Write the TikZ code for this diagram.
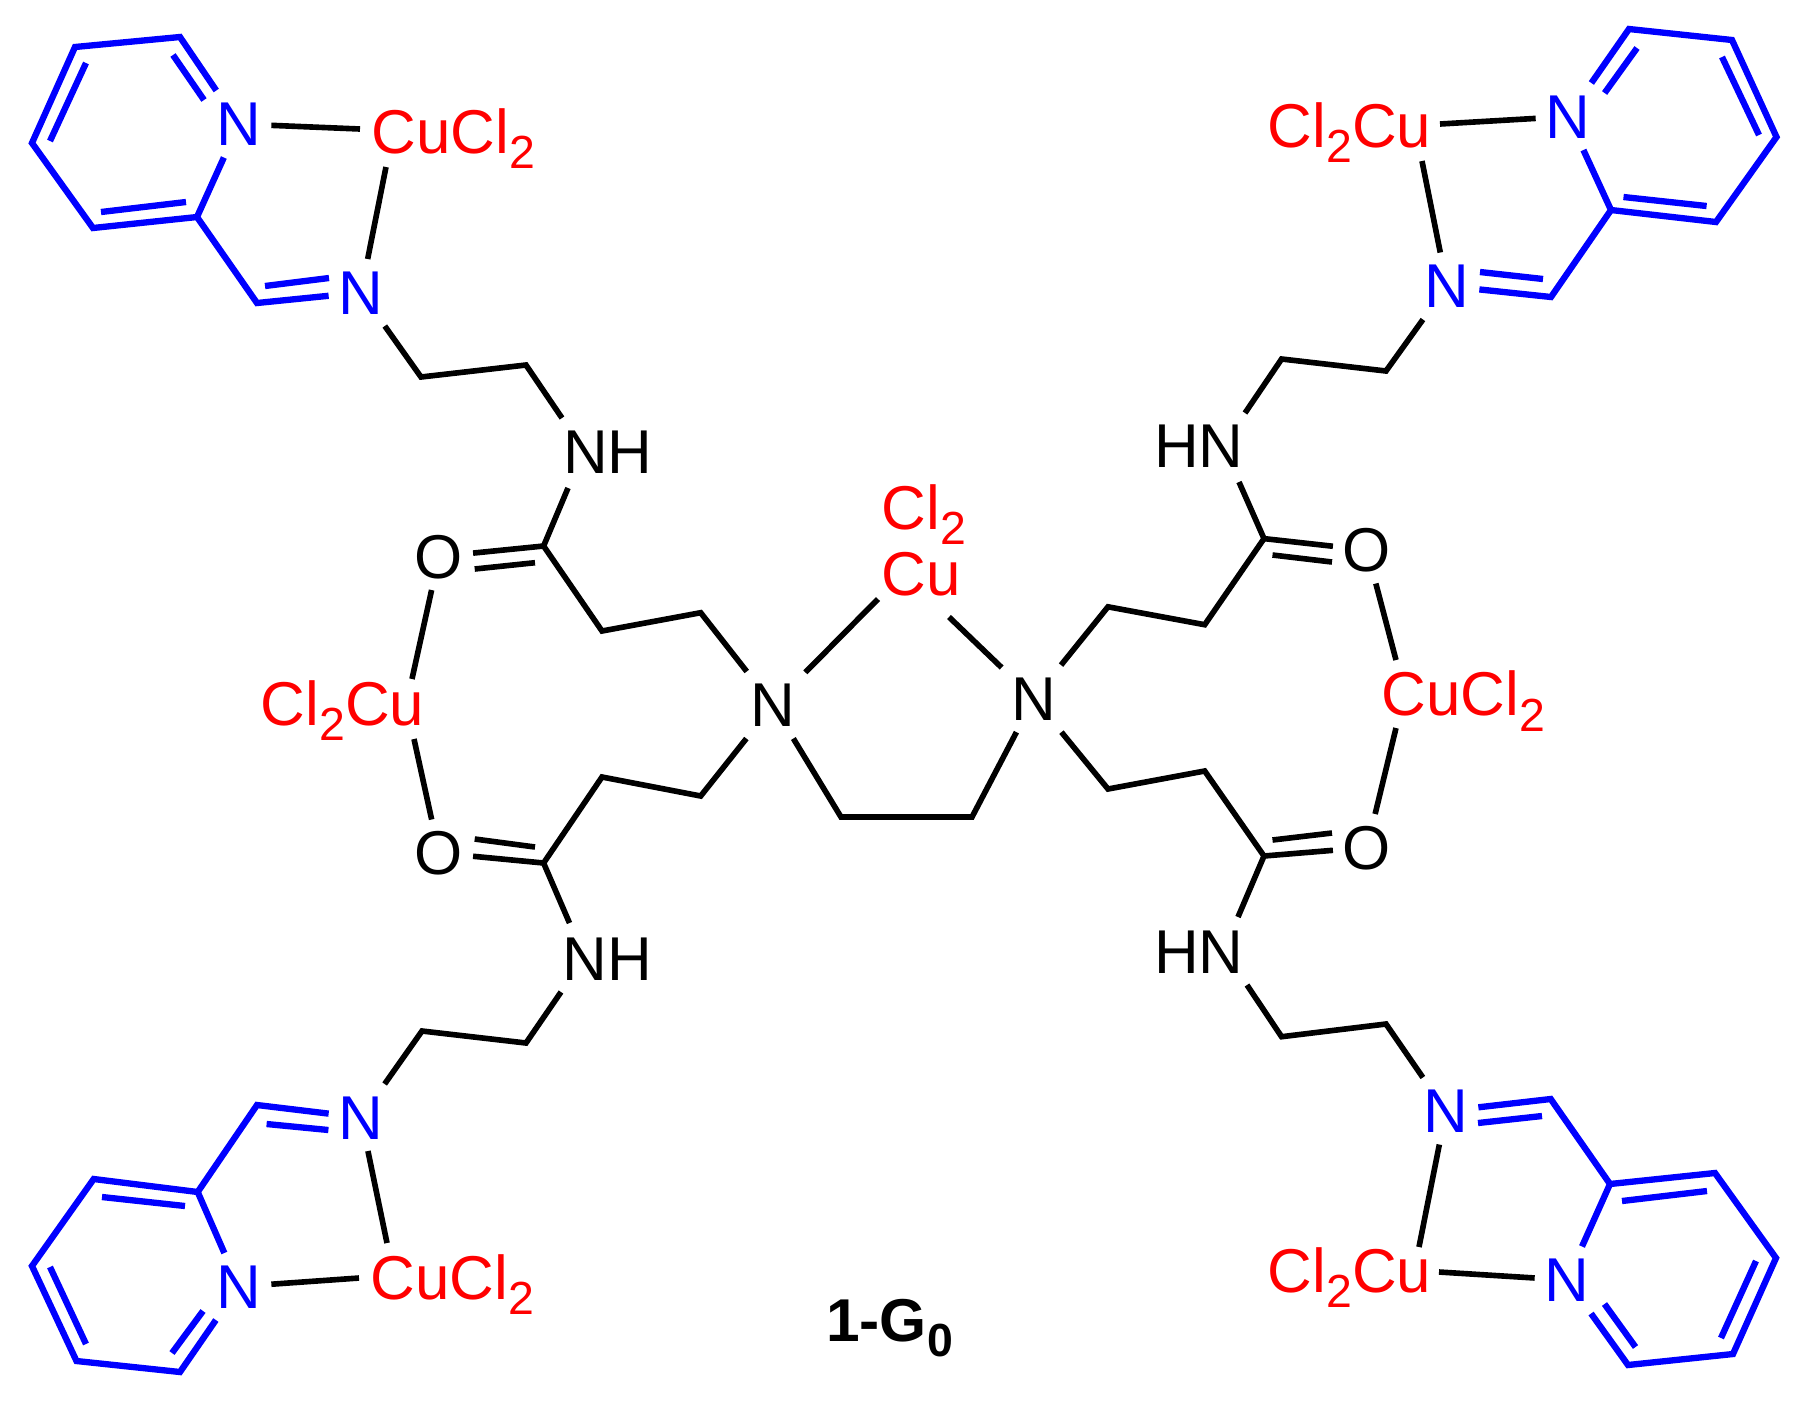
\documentclass[tikz,border=0pt]{standalone}
\usepackage{fontspec}
\setmainfont{Liberation Sans}
\usepackage{xcolor}
\usepackage{tikz}

\newcommand{\lowsub}[1]{\raisebox{-.25em}{\fontsize{13.2pt}{14pt}\selectfont #1}}

\begin{document}
\begin{tikzpicture}[
x=0.01cm, y=-0.01cm,
atom/.style={font=\fontsize{17.6pt}{20pt}\selectfont,
inner sep=0pt, outer xsep=.1cm, outer ysep=.12cm,
text height=.43cm, text depth=0pt},
metal/.style={atom, text=red},
pyn/.style={atom, text=blue},
bond/.style={line width=1.6pt},
ring/.style={line width=1.8pt, blue}
]
\useasboundingbox (0,0) rectangle (1799,1405);

% atoms, top left arm
\node[pyn] (Ntl1) at (239,124) {N};
\node[pyn] (Ntl2) at (361,292.5) {N};
\node[metal] (Cutl) at (453.5,131.5) {CuCl\lowsub{2}};
\node[atom] (NHtl) at (608,451.5) {NH};
\node[atom] (Otl) at (439,556.5) {O};
% atoms, bottom left arm
\node[pyn] (Nbl1) at (239,1286.5) {N};
\node[pyn] (Nbl2) at (361,1117.5) {N};
\node[metal] (Cubl) at (452.5,1277.5) {CuCl\lowsub{2}};
\node[atom] (NHbl) at (607.5,958.5) {NH};
\node[atom] (Obl) at (439,853) {O};
% atoms, top right arm
\node[pyn] (Ntr1) at (1568,116.5) {N};
\node[pyn] (Ntr2) at (1447,286) {N};
\node[metal] (Cutr) at (1349.5,125.5) {Cl\lowsub{2}Cu};
\node[atom] (NHtr) at (1199,445.5) {HN};
\node[atom] (Otr) at (1367,550) {O};
% atoms, bottom right arm
\node[pyn] (Nbr1) at (1567,1280) {N};
\node[pyn] (Nbr2) at (1446,1111) {N};
\node[metal] (Cubr) at (1349.5,1270.5) {Cl\lowsub{2}Cu};
\node[atom] (NHbr) at (1199,952) {HN};
\node[atom] (Obr) at (1367,847.5) {O};
% atoms, centre
\node[atom] (Nleft) at (773,705) {N};
\node[atom] (Nright) at (1034,698.6) {N};
\node[metal] (Cumid) at (921,573.5) {Cu};
\node[metal] (Clmid) at (923.7,507.5) {Cl\lowsub{2}};
\node[metal] (Cul) at (342.5,703.5) {Cl\lowsub{2}Cu};
\node[metal] (Cur) at (1463.5,694) {CuCl\lowsub{2}};
\node[atom, font=\fontsize{17.2pt}{20pt}\selectfont\bfseries] (label) at (889.5,1319.5) {1-G\lowsub{0}};

% carbons, top left arm
\coordinate (tl1) at (75,47); \coordinate (tl2) at (180,37);
\coordinate (tl3) at (197,217); \coordinate (tl4) at (93,228);
\coordinate (tl5) at (32,143); \coordinate (tlim) at (257,303);
\coordinate (tlch1) at (421,377); \coordinate (tlch2) at (526,365);
\coordinate (tlco) at (543.6,546); \coordinate (tlch3) at (602,631);
\coordinate (tlch4) at (700.7,612.7);
% carbons, bottom left arm
\coordinate (bl1) at (93.7,1179); \coordinate (bl2) at (32,1266);
\coordinate (bl3) at (76.5,1361); \coordinate (bl4) at (180,1372);
\coordinate (bl5) at (197.7,1192); \coordinate (blim) at (257,1105);
\coordinate (blch1) at (422,1031); \coordinate (blch2) at (526,1043);
\coordinate (blco) at (543.6,863); \coordinate (blch3) at (602,777);
\coordinate (blch4) at (700.7,796);
% carbons, top right arm
\coordinate (tr1) at (1629,29); \coordinate (tr2) at (1732,40);
\coordinate (tr3) at (1776.5,137); \coordinate (tr4) at (1716,222);
\coordinate (tr5) at (1611,210); \coordinate (trim) at (1551,297);
\coordinate (trch1) at (1386,371); \coordinate (trch2) at (1281.6,359);
\coordinate (trco) at (1264,538.6); \coordinate (trch3) at (1204.7,624.7);
\coordinate (trch4) at (1108,606.8);
% carbons, bottom right arm
\coordinate (br1) at (1628,1365); \coordinate (br2) at (1733,1354);
\coordinate (br3) at (1776,1258); \coordinate (br4) at (1715,1173);
\coordinate (br5) at (1610,1184); \coordinate (brim) at (1550.7,1099);
\coordinate (brch1) at (1386,1024); \coordinate (brch2) at (1281.6,1036.7);
\coordinate (brco) at (1264,856); \coordinate (brch3) at (1204.7,771);
\coordinate (brch4) at (1108,789);
% carbons, centre
\coordinate (en1) at (841,817); \coordinate (en2) at (972,817);

% ends of the inner double bond lines
\coordinate (tli1) at (173,55); \coordinate (tli2) at (204,100);
\coordinate (tli3) at (86,63); \coordinate (tli4) at (50,141);
\coordinate (tli5) at (101,212); \coordinate (tli6) at (186,202);
\coordinate (tli7) at (265,286); \coordinate (tli8) at (329,278);
\coordinate (tlo1) at (535,562.7); \coordinate (tlo2) at (474.7,569);
\coordinate (bli1) at (102,1197); \coordinate (bli2) at (185,1206);
\coordinate (bli3) at (50,1267); \coordinate (bli4) at (86,1344);
\coordinate (bli5) at (203,1311); \coordinate (bli6) at (172,1353);
\coordinate (bli7) at (266.6,1124); \coordinate (bli8) at (328.4,1130);
\coordinate (blo1) at (535,847); \coordinate (blo2) at (474.7,839);
\coordinate (tri1) at (1637,48); \coordinate (tri2) at (1604.6,93);
\coordinate (tri3) at (1722,57); \coordinate (tri4) at (1759,135);
\coordinate (tri5) at (1623.5,197); \coordinate (tri6) at (1706.6,206);
\coordinate (tri7) at (1480,272); \coordinate (tri8) at (1543,279);
\coordinate (tro1) at (1272.5,555); \coordinate (tro2) at (1332,562);
\coordinate (bri1) at (1604.5,1304); \coordinate (bri2) at (1635.5,1347);
\coordinate (bri3) at (1622,1201); \coordinate (bri4) at (1707,1191);
\coordinate (bri5) at (1756,1261); \coordinate (bri6) at (1721,1338);
\coordinate (bri7) at (1478,1123); \coordinate (bri8) at (1542,1116);
\coordinate (bro1) at (1272.5,840); \coordinate (bro2) at (1332,833);

% pyridine rings and imines
\draw[ring] (Ntl1) -- (tl2) -- (tl1) -- (tl5) -- (tl4) -- (tl3) -- (Ntl1);
\draw[ring] (tl3) -- (tlim) -- (Ntl2);
\draw[ring] (tli1) -- (tli2);
\draw[ring] (tli3) -- (tli4);
\draw[ring] (tli5) -- (tli6);
\draw[ring] (tli7) -- (tli8);

\draw[ring] (Nbl1) -- (bl4) -- (bl3) -- (bl2) -- (bl1) -- (bl5) -- (Nbl1);
\draw[ring] (bl5) -- (blim) -- (Nbl2);
\draw[ring] (bli1) -- (bli2);
\draw[ring] (bli3) -- (bli4);
\draw[ring] (bli5) -- (bli6);
\draw[ring] (bli7) -- (bli8);

\draw[ring] (Ntr1) -- (tr1) -- (tr2) -- (tr3) -- (tr4) -- (tr5) -- (Ntr1);
\draw[ring] (tr5) -- (trim) -- (Ntr2);
\draw[ring] (tri1) -- (tri2);
\draw[ring] (tri3) -- (tri4);
\draw[ring] (tri5) -- (tri6);
\draw[ring] (tri7) -- (tri8);

\draw[ring] (Nbr1) -- (br1) -- (br2) -- (br3) -- (br4) -- (br5) -- (Nbr1);
\draw[ring] (br5) -- (brim) -- (Nbr2);
\draw[ring] (bri1) -- (bri2);
\draw[ring] (bri3) -- (bri4);
\draw[ring] (bri5) -- (bri6);
\draw[ring] (bri7) -- (bri8);

% copper bonds of the arms
\draw[bond] (Ntl1) -- ([shift={(-93.5,-2.5)}]Cutl.center);
\draw[bond] ([shift={(-67.5,35.5)}]Cutl.center) -- (Ntl2);
\draw[bond] (Nbl1) -- ([shift={(-93.5,.5)}]Cubl.center);
\draw[bond] ([shift={(-65.5,-34.5)}]Cubl.center) -- (Nbl2);
\draw[bond] (Ntr1) -- ([shift={(90.5,-1.5)}]Cutr.center);
\draw[bond] ([shift={(72.5,35.5)}]Cutr.center) -- (Ntr2);
\draw[bond] (Nbr1) -- ([shift={(89.5,1.5)}]Cubr.center);
\draw[bond] ([shift={(69.5,-23.5)}]Cubr.center) -- (Nbr2);

% chains
\draw[bond] (Ntl2) -- (tlch1) -- (tlch2) -- ([shift={(-46,-33.5)}]NHtl.center);
\draw[bond] ([shift={(-40,36.5)}]NHtl.center) -- (tlco) -- (tlch3) -- (tlch4) -- (Nleft);
\draw[bond] (Nbl2) -- (blch1) -- (blch2) -- ([shift={(-46.5,33.5)}]NHbl.center);
\draw[bond] ([shift={(-38,-35.5)}]NHbl.center) -- (blco) -- (blch3) -- (blch4) -- (Nleft);
\draw[bond] (Ntr2) -- (trch1) -- (trch2) -- ([shift={(46,-32.5)}]NHtr.center);
\draw[bond] ([shift={(40,36.5)}]NHtr.center) -- (trco) -- (trch3) -- (trch4) -- (Nright);
\draw[bond] (Nbr2) -- (brch1) -- (brch2) -- ([shift={(48,33)}]NHbr.center);
\draw[bond] ([shift={(39,-35)}]NHbr.center) -- (brco) -- (brch3) -- (brch4) -- (Nright);

% carbonyls
\draw[bond] (tlco) -- (Otl);
\draw[bond] (tlo1) -- (tlo2);
\draw[bond] (blco) -- (Obl);
\draw[bond] (blo1) -- (blo2);
\draw[bond] (trco) -- (Otr);
\draw[bond] (tro1) -- (tro2);
\draw[bond] (brco) -- (Obr);
\draw[bond] (bro1) -- (bro2);

% side coppers
\draw[bond] (Otl) -- ([shift={(69.5,-24.5)}]Cul.center);
\draw[bond] ([shift={(71.5,35.5)}]Cul.center) -- (Obl);
\draw[bond] (Otr) -- ([shift={(-67.5,-34)}]Cur.center);
\draw[bond] ([shift={(-67.5,34)}]Cur.center) -- (Obr);

% centre
\draw[bond] (Nleft) -- ([shift={(-43,25.5)}]Cumid.center);
\draw[bond] ([shift={(28,43.5)}]Cumid.center) -- (Nright);
\draw[bond] (Nleft) -- (en1) -- (en2) -- (Nright);

\end{tikzpicture}
\end{document}
